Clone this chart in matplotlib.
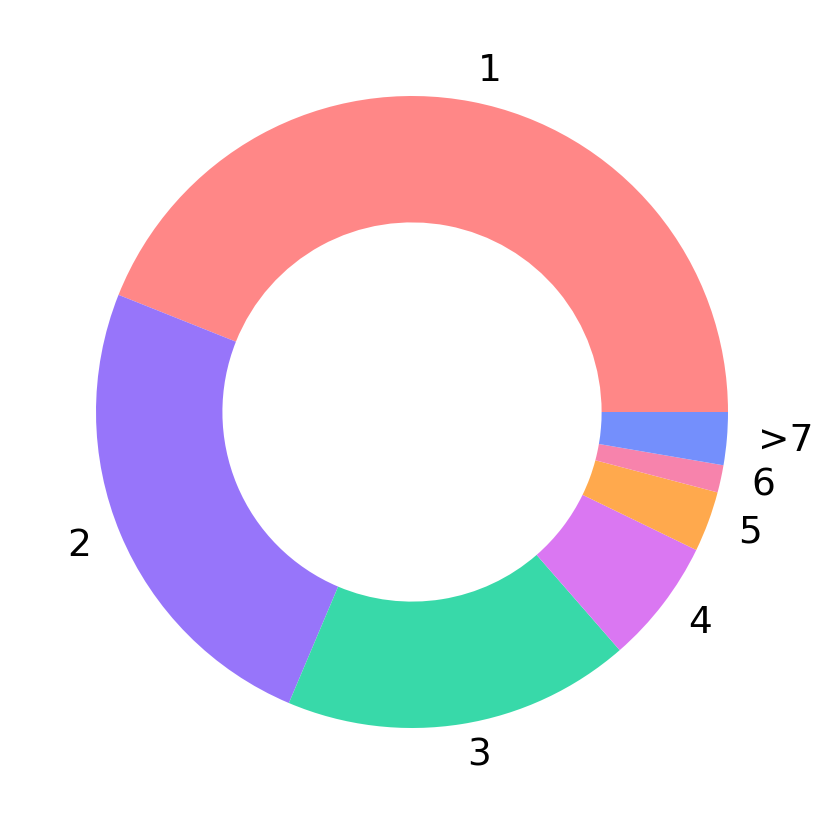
import matplotlib.pyplot as plt

# Share of each group (percent)
labels = ['1', '2', '3', '4', '5', '6', '>7']
shares = [44.0, 24.7, 17.8, 6.4, 3.1, 1.4, 2.7]
colors = ['#ff8787', '#9775fa', '#38d9a9', '#da77f2', '#ffa94d', '#f783ac', '#748ffc']

fig = plt.figure(figsize=(8.32, 8.24), dpi=100)
ax = fig.add_axes([17 / 832, 17 / 824, 790 / 832, 790 / 824])
ax.pie(shares, labels=labels, colors=colors, startangle=0,
       wedgeprops=dict(width=0.4), textprops=dict(fontsize=27))
ax.set_aspect('equal')

fig.savefig('out.png', dpi=100)
